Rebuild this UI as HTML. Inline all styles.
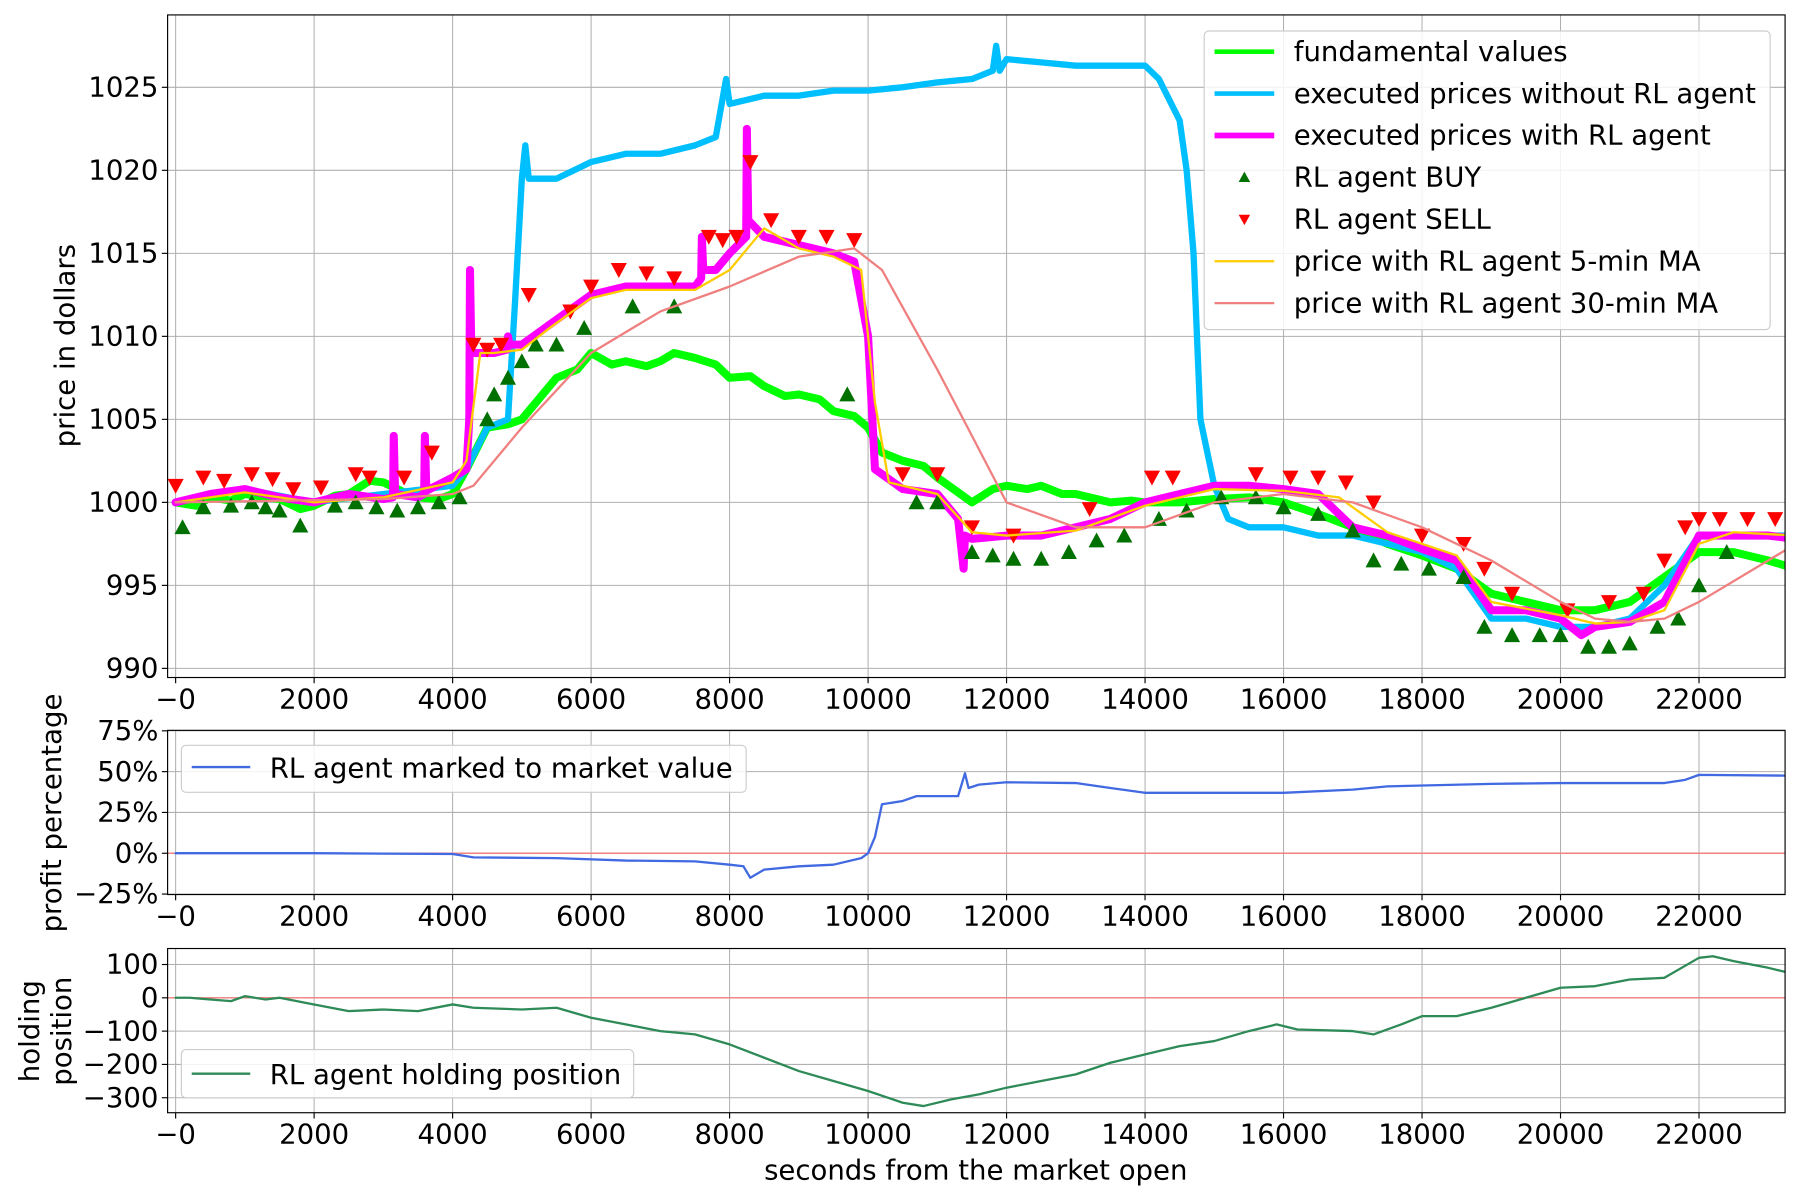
<!DOCTYPE html>
<html><head><meta charset="utf-8"><title>RL agent market chart</title>
<style>html,body{margin:0;padding:0;background:#fff}svg{display:block;font-family:"DejaVu Sans","Liberation Sans",sans-serif}</style>
</head><body>
<svg id="chart" width="1800" height="1200" viewBox="0 0 1568 1045" preserveAspectRatio="none" xmlns="http://www.w3.org/2000/svg"></svg>
<script>
// ---------- data ----------
const xTicks = [0,2000,4000,6000,8000,10000,12000,14000,16000,18000,20000,22000];
const priceTicks = [990,995,1000,1005,1010,1015,1020,1025];
const profitTicks = [-25,0,25,50,75];
const holdTicks = [-300,-200,-100,0,100];

const fundT = [0,300,500,800,1000,1300,1500,1800,2000,2300,2500,2800,3000,3300,3500,3800,4000,4200,4500,4800,5000,5300,5500,5800,6000,6300,6500,6800,7000,7200,7500,7800,8000,8300,8500,8800,9000,9300,9500,9800,10000,10200,10500,10800,11000,11300,11500,11800,12000,12300,12500,12800,13000,13300,13500,13800,14000,14500,15000,15500,16000,16500,17000,17500,18000,18500,19000,19500,20000,20500,21000,21500,22000,22500,23000,23400];
const fundV = [1000,999.8,1000.3,1000.1,1000.5,1000.3,1000.2,999.6,999.8,1000.4,1000.5,1001.3,1001.2,1000.6,1000.3,1000.2,1000.5,1002,1004.5,1004.7,1005,1006.5,1007.5,1008,1009,1008.3,1008.5,1008.2,1008.5,1009,1008.7,1008.3,1007.5,1007.6,1007,1006.4,1006.5,1006.2,1005.5,1005.2,1004.5,1003,1002.5,1002.2,1001.5,1000.6,1000,1000.8,1001,1000.8,1001,1000.5,1000.5,1000.2,1000,1000.1,1000,1000,1000.2,1000.3,1000,999.3,998.5,997.5,996.8,996,994.5,994,993.5,993.5,994,995.5,997,997,996.5,996];

const noRlT = [0,500,1000,2000,3000,4000,4200,4500,4800,4900,5000,5050,5100,5150,5500,6000,6500,7000,7500,7800,7950,8000,8500,9000,9500,10000,10500,11000,11500,11800,11850,11900,12000,12500,13000,14000,14200,14500,14600,14700,14800,15000,15200,15500,16000,16500,17000,17500,18000,18500,19000,19500,20000,20500,21000,21500,22000,22500,23000,23400];
const noRlV = [1000,1000.5,1000.8,1000,1000.5,1001,1002,1004.5,1005,1012,1019.5,1021.5,1019.5,1019.5,1019.5,1020.5,1021,1021,1021.5,1022,1025.5,1024,1024.5,1024.5,1024.8,1024.8,1025,1025.3,1025.5,1026,1027.5,1026,1026.7,1026.5,1026.3,1026.3,1025.5,1023,1020,1015,1005,1001,999,998.5,998.5,998,998,997.5,997,996,993,993,992.5,992.5,993,995,998,998,998,998];

const rlT = [0,500,1000,1500,2000,2500,3000,3140,3150,3170,3500,3590,3600,3620,4000,4200,4240,4250,4270,4300,4600,4790,4800,4820,5000,5500,6000,6500,7000,7500,7590,7600,7620,7800,8000,8240,8250,8270,8500,9000,9500,9800,10000,10100,10500,11000,11300,11380,11400,11500,12000,12500,13000,13500,14000,14500,15000,15500,16000,16500,17000,17500,18000,18500,19000,19500,20000,20300,20500,21000,21500,22000,22500,23000,23400];
const rlV = [1000,1000.5,1000.8,1000.3,1000,1000.5,1000.2,1000.3,1004,1000.5,1000.3,1000.5,1004,1000.7,1001.5,1002,1005,1014,1009,1009,1009,1009.2,1010,1009.5,1009.5,1011,1012.5,1013,1013,1013,1013.5,1016,1014,1014,1015,1016,1022.5,1017,1016,1015.5,1015,1014.5,1010,1002,1000.8,1000.5,999,996,998,997.8,998,998,998.5,999,1000,1000.5,1001,1001,1000.8,1000.5,998.5,998,997.2,996.5,993.5,993.5,993,992,992.5,992.8,994,998,998,998,997.8];

const ma5T = [0,1000,2000,3000,4000,4200,4400,4600,5000,5400,6000,6500,7000,7500,8000,8300,8500,9000,9500,9900,10100,10300,11000,11500,12000,13000,14000,15000,16000,16800,17500,18500,19000,20000,20500,21000,21500,22000,22500,23400];
const ma5V = [1000,1000.6,1000,1000.3,1001.2,1002.5,1009,1009,1009.2,1010.5,1012.3,1012.8,1012.8,1012.8,1014,1015.5,1016.5,1015.3,1014.8,1014,1006,1001.2,1000.5,998.2,998,998.3,999.8,1000.8,1000.7,1000.3,998.2,996.8,994,993.2,992.7,992.8,993.5,997.5,998.2,998];

const ma30T = [0,3000,4000,4300,5000,6000,7000,8000,9000,9800,10200,11000,11500,12000,13000,14000,15000,16000,17000,18000,19000,20000,20500,21000,21500,22000,23400];
const ma30V = [1000,1000.2,1000.5,1001,1004.5,1009,1011.5,1013,1014.8,1015.3,1014,1008,1004,1000,998.5,998.5,1000,1000.5,1000,998.5,996.5,994,993,992.8,993,994,997.5];

const buyT = [100,400,800,1100,1300,1500,1800,2300,2600,2900,3200,3500,3800,4100,4500,4600,4800,5000,5200,5500,5900,6600,7200,9700,10700,11000,11500,11800,12100,12500,12900,13300,13700,14200,14600,15100,15600,16000,16500,17000,17300,17700,18100,18600,18900,19300,19700,20000,20400,20700,21000,21400,21700,22000,22400];
const buyV = [998.5,999.7,999.8,1000,999.7,999.5,998.6,999.8,1000,999.7,999.5,999.7,1000,1000.3,1005,1006.5,1007.5,1008.5,1009.5,1009.5,1010.5,1011.8,1011.8,1006.5,1000,1000,997,996.8,996.6,996.6,997,997.7,998,999,999.5,1000.3,1000.3,999.7,999.3,998.3,996.5,996.3,996,995.5,992.5,992,992,992,991.3,991.3,991.5,992.5,993,995,997];

const sellT = [0,400,700,1100,1400,1700,2100,2600,2800,3300,3700,4300,4500,4700,5100,5700,6000,6400,6800,7200,7700,7900,8100,8300,8600,9000,9400,9800,10500,11000,11500,12100,13200,14100,14400,15600,16100,16500,16900,17300,18000,18600,18900,19300,20100,20700,21200,21500,21800,22000,22300,22700,23100];
const sellV = [1001,1001.5,1001.3,1001.7,1001.4,1000.8,1000.9,1001.7,1001.5,1001.5,1003,1009.5,1009.2,1009.5,1012.5,1011.5,1013,1014,1013.8,1013.5,1016,1015.8,1016,1020.5,1017,1016,1016,1015.8,1001.7,1001.7,998.5,998,999.6,1001.5,1001.5,1001.7,1001.5,1001.5,1001.2,1000,998,997.5,996,994.5,993.5,994,994.5,996.5,998.5,999,999,999,999];

const profT = [0,2000,4000,4300,5500,6500,7500,8000,8200,8300,8500,9000,9500,9900,10000,10100,10200,10500,10700,11300,11400,11450,11600,12000,13000,13500,14000,15000,16000,17000,17500,19000,20000,21500,21800,22000,23400];
const profV = [0,0,-0.5,-2.5,-3,-4.5,-5,-7,-8,-15,-10,-8,-7,-3,0,10,30,32,35,35,49,40,42,43.5,43,40,37,37,37,39,41,42.5,43,43,45,48,47.5];

const holdT = [0,200,500,800,1000,1300,1500,2000,2500,3000,3500,4000,4300,5000,5500,6000,6500,7000,7500,8000,9000,9500,10000,10500,10800,11200,11600,12000,12500,13000,13500,14000,14500,15000,15500,15900,16200,17000,17300,17700,18000,18500,19000,19500,20000,20500,21000,21500,22000,22200,22500,23000,23400];
const holdV = [0,0,-5,-10,5,-5,0,-20,-40,-35,-40,-20,-30,-35,-30,-60,-80,-100,-110,-140,-220,-250,-280,-315,-325,-305,-290,-270,-250,-230,-195,-170,-145,-130,-100,-80,-95,-100,-110,-80,-55,-55,-30,0,30,35,55,60,120,125,110,90,70];

// ---------- rendering ----------
const NS = "http://www.w3.org/2000/svg";
const svg = document.getElementById('chart');
const FS = 24;
function mk(tag, attrs, parent){const e=document.createElementNS(NS,tag);for(const k in attrs)e.setAttribute(k,attrs[k]);(parent||svg).appendChild(e);return e;}
const XL=146, XR=1555, XMIN=-116, XMAX=23243;
const xS = v => XL + (v-XMIN)/(XMAX-XMIN)*(XR-XL);
function yScale(top,bot,vmax,vmin){return v => top + (vmax-v)/(vmax-vmin)*(bot-top);}
const yP = yScale(13,590,1029.36,989.45);
const yR = yScale(636,779,75.3,-25.3);
const yH = yScale(826,969,148,-345);

function panel(name,top,bot,yS,ticks,fmt){
  const g=mk('g',{});
  
  
  xTicks.forEach(t=>{mk('line',{x1:xS(t),x2:xS(t),y1:top,y2:bot,stroke:'#b0b0b0','stroke-width':0.9},g);
    mk('line',{x1:xS(t),x2:xS(t),y1:bot,y2:bot+5,stroke:'#000','stroke-width':1},g);
    const tx=mk('text',{x:xS(t),y:bot+27,'font-size':FS,'text-anchor':'middle'},g);tx.textContent=(t===0?'\u22120':String(t));
    
    });
  ticks.forEach(t=>{const y=yS(t);mk('line',{x1:XL,x2:XR,y1:y,y2:y,stroke:'#b0b0b0','stroke-width':0.9},g);
    mk('line',{x1:XL-5,x2:XL,y1:y,y2:y,stroke:'#000','stroke-width':1},g);
    const tx=mk('text',{x:XL-8,y:y+8,'font-size':FS,'text-anchor':'end'},g);tx.textContent=fmt(t);
    
    });
  return g;
}
function frame(top,bot){mk('rect',{x:XL,y:top,width:XR-XL,height:bot-top,fill:'none',stroke:'#000','stroke-width':1});}
function line(ts,vs,yS,color,w,name,clip){
  const d=ts.map((t,i)=>(i?'L':'M')+xS(t).toFixed(1)+','+yS(vs[i]).toFixed(1)).join('');
  const p=mk('path',{d:d,fill:'none',stroke:color,'stroke-width':w,'stroke-linejoin':'round','stroke-linecap':'round','clip-path':'url(#'+clip+')'});
  
  
  return p;
}
const defs=mk('defs',{});
[['c1',13,590],['c2',636,779],['c3',826,969]].forEach(c=>{const cp=mk('clipPath',{id:c[0]},defs);mk('rect',{x:XL,y:c[1],width:XR-XL,height:c[2]-c[1]},cp);});

// Panel 1
panel('price-panel',13,590,yP,priceTicks,t=>String(t));
line(fundT,fundV,yP,'#00ff00',7,'fundamental-values-line','c1');
line(noRlT,noRlV,yP,'#00bfff',5.5,'executed-prices-without-rl-line','c1');
line(rlT,rlV,yP,'#ff00ff',7,'executed-prices-with-rl-line','c1');
buyT.forEach((t,i)=>{const x=xS(t),y=yP(buyV[i]);
  const m=mk('polygon',{points:`${x-7},${y+6} ${x+7},${y+6} ${x},${y-7}`,fill:'#007000','clip-path':'url(#c1)'});
  
  });
sellT.forEach((t,i)=>{const x=xS(t),y=yP(sellV[i]);
  const m=mk('polygon',{points:`${x-7},${y-6} ${x+7},${y-6} ${x},${y+7}`,fill:'#ff0000','clip-path':'url(#c1)'});
  
  });
line(ma5T,ma5V,yP,'#ffcc00',2,'ma5-line','c1');
line(ma30T,ma30V,yP,'#f08080',2,'ma30-line','c1');
frame(13,590);

// Panel 2
panel('profit-panel',636,779,yR,profitTicks,t=>(t<0?'\u2212'+(-t):t)+'%');
mk('line',{x1:XL,x2:XR,y1:yR(0),y2:yR(0),stroke:'#f08080','stroke-width':1.3});
line(profT,profV,yR,'#4169e1',2,'profit-line','c2');
frame(636,779);

// Panel 3
panel('holding-panel',826,969,yH,holdTicks,t=>(t<0?'\u2212'+(-t):String(t)));
mk('line',{x1:XL,x2:XR,y1:yH(0),y2:yH(0),stroke:'#f08080','stroke-width':1.3});
line(holdT,holdV,yH,'#2e8b57',2,'holding-line','c3');
frame(826,969);

// Axis titles
function txt(s,x,y,size,name,rot,anchor){const t=mk('text',{x:x,y:y,'font-size':size,'text-anchor':anchor||'middle'});
  if(rot)t.setAttribute('transform',`rotate(-90 ${x} ${y})`);t.textContent=s;
  
  return t;}
txt('price in dollars',65,301,FS,'y-axis-title-price',true);
txt('profit percentage',53,708,FS,'y-axis-title-profit',true);
txt('holding',34,898,FS,'y-axis-title-holding-1',true);
txt('position',62,898,FS,'y-axis-title-holding-2',true);
txt('seconds from the market open',850,1027,FS,'x-axis-title');

// Legend main
const lg=mk('g',{});


mk('rect',{x:1049,y:27,width:493,height:260,rx:4,fill:'#fff','fill-opacity':0.85,stroke:'#ccc'},lg);
const legItems=[['fundamental values','#00ff00',4,'line'],['executed prices without RL agent','#00bfff',4,'line'],['executed prices with RL agent','#ff00ff',5,'line'],['RL agent BUY','#007000',0,'up'],['RL agent SELL','#ff0000',0,'down'],['price with RL agent 5-min MA','#ffcc00',2,'line'],['price with RL agent 30-min MA','#f08080',2,'line']];
legItems.forEach((it,i)=>{const y=45+i*36.5;
  if(it[3]==='line')mk('line',{x1:1058,x2:1110,y1:y,y2:y,stroke:it[1],'stroke-width':it[2]},lg);
  else if(it[3]==='up')mk('polygon',{points:`${1079},${y+4} ${1089},${y+4} ${1084},${y-5}`,fill:it[1]},lg);
  else mk('polygon',{points:`${1079},${y-4} ${1089},${y-4} ${1084},${y+5}`,fill:it[1]},lg);
  const t=mk('text',{x:1127,y:y+8,'font-size':FS},lg);t.textContent=it[0];
  
  });

const l2=mk('g',{});


mk('rect',{x:158,y:649,width:492,height:41,rx:4,fill:'#fff','fill-opacity':0.85,stroke:'#ccc'},l2);
mk('line',{x1:167,x2:218,y1:668,y2:668,stroke:'#4169e1','stroke-width':2},l2);
const t2=mk('text',{x:235,y:677,'font-size':FS},l2);t2.textContent='RL agent marked to market value';

const l3=mk('g',{});


mk('rect',{x:158,y:914,width:394,height:42,rx:4,fill:'#fff','fill-opacity':0.85,stroke:'#ccc'},l3);
mk('line',{x1:167,x2:218,y1:935,y2:935,stroke:'#2e8b57','stroke-width':2},l3);
const t3=mk('text',{x:235,y:944,'font-size':FS},l3);t3.textContent='RL agent holding position';
</script>
</body></html>
